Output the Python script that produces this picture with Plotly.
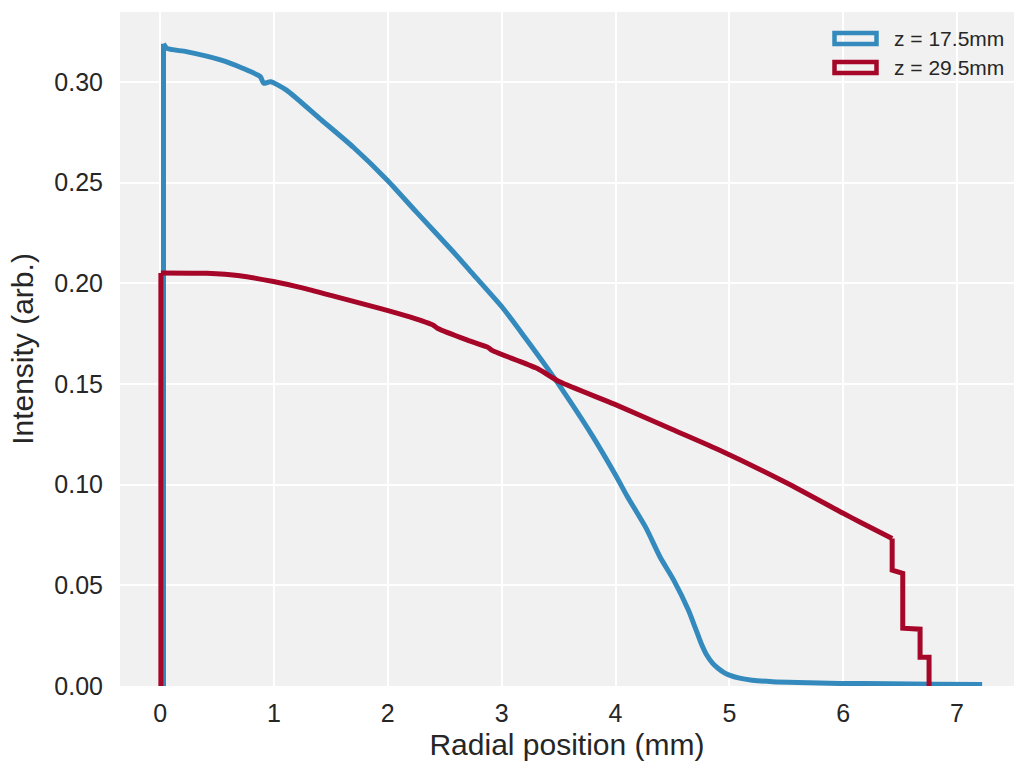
import plotly.graph_objects as go

# Radial intensity profiles (step histograms) at two axial positions
blue_label = "z = 17.5mm"
blue_x = [0.03, 0.03, 0.06, 0.23, 0.53, 0.72, 0.88, 0.91, 0.97, 1.11, 1.40, 1.70,
          2.00, 2.25, 2.56, 2.75, 3.00, 3.20, 3.40, 3.60, 3.80, 4.00, 4.10, 4.27,
          4.39, 4.51, 4.64, 4.70, 4.75, 4.80, 4.85, 4.90, 4.95, 5.00, 5.09, 5.20,
          5.38, 5.60, 5.97, 6.40, 6.80, 7.22]
blue_y = [0.0, 0.319, 0.3167, 0.3151, 0.311, 0.307, 0.3027, 0.2994, 0.3002, 0.296,
          0.282, 0.2675, 0.251, 0.2355, 0.2166, 0.2045, 0.1885, 0.1735, 0.158,
          0.1415, 0.124, 0.1048, 0.0945, 0.0783, 0.0642, 0.0527, 0.0377, 0.029,
          0.0215, 0.0155, 0.0115, 0.0088, 0.0068, 0.0054, 0.0039, 0.0029, 0.0021,
          0.0017, 0.0013, 0.0011, 0.0009, 0.0008]

red_label = "z = 29.5mm"
red_x = [0.007, 0.007, 0.41, 0.70, 0.995, 1.23, 1.50, 1.93, 2.20, 2.40, 2.44, 2.70,
         2.88, 2.92, 3.31, 3.51, 3.99, 4.50, 4.92, 5.50, 6.00, 6.15, 6.43, 6.43,
         6.523, 6.523, 6.675, 6.675, 6.754, 6.754]
red_y = [0.0, 0.2052, 0.205, 0.2038, 0.2009, 0.198, 0.194, 0.1876, 0.1832, 0.1792,
         0.1776, 0.1718, 0.1682, 0.1666, 0.1578, 0.1511, 0.140, 0.1274, 0.117,
         0.101, 0.0858, 0.0813, 0.0733, 0.0576, 0.0560, 0.0287, 0.0282, 0.01425,
         0.01425, 0.0]

x_ticks = [0, 1, 2, 3, 4, 5, 6, 7]
y_ticks = [0.00, 0.05, 0.10, 0.15, 0.20, 0.25, 0.30]

BLUE = "#348ABD"
RED = "#A60628"
TEXT = "#262626"
FONT = "Liberation Sans, Arial, Helvetica, sans-serif"
LW = 5

W, H = 1016, 769
M_L, M_R, M_T, M_B = 120, 2, 12, 83
PW, PH = W - M_L - M_R, H - M_T - M_B


def split_profile(xs, ys):
    """Split a profile into its vertical rising edge, smooth body and step tail."""
    # rising edge: first two points share the same x
    edge = (xs[:2], ys[:2])
    # tail begins at the first repeated x after the edge
    tail_start = len(xs)
    for i in range(2, len(xs) - 1):
        if xs[i] == xs[i + 1]:
            tail_start = i
            break
    body = (xs[1:tail_start + 1], ys[1:tail_start + 1])
    tail = (xs[tail_start:], ys[tail_start:])
    return edge, body, tail


fig = go.Figure()
for xs, ys, color, label in [(blue_x, blue_y, BLUE, blue_label),
                             (red_x, red_y, RED, red_label)]:
    edge, body, tail = split_profile(xs, ys)
    fig.add_trace(go.Scatter(x=edge[0], y=edge[1], mode="lines", name=label,
                             line=dict(color=color, width=LW), showlegend=False))
    fig.add_trace(go.Scatter(x=body[0], y=body[1], mode="lines", name=label,
                             line=dict(color=color, width=LW, shape="spline",
                                       smoothing=0.6),
                             showlegend=False))
    if len(tail[0]) > 1:
        fig.add_trace(go.Scatter(x=tail[0], y=tail[1], mode="lines", name=label,
                                 line=dict(color=color, width=LW),
                                 showlegend=False))


def px_to_paper(px, py):
    return (px - M_L) / PW, (H - M_B - py) / PH


# Legend drawn as outlined boxes (histogram-step style) with labels
shapes, annotations = [], []
for i, (label, color) in enumerate([(blue_label, BLUE), (red_label, RED)]):
    cy = 38.5 + 29 * i
    x0, y0 = px_to_paper(834.5, cy + 5.5)
    x1, y1 = px_to_paper(876.5, cy - 5.5)
    shapes.append(dict(type="rect", xref="paper", yref="paper", x0=x0, x1=x1,
                       y0=y0, y1=y1, line=dict(color=color, width=4.5),
                       fillcolor="rgba(0,0,0,0)"))
    tx, ty = px_to_paper(892, cy)
    annotations.append(dict(x=tx, y=ty, xref="paper", yref="paper", text=label,
                            showarrow=False, xanchor="left", yanchor="middle",
                            font=dict(size=21, color=TEXT, family=FONT)))

fig.update_layout(
    width=W, height=H,
    margin=dict(l=M_L, r=M_R, t=M_T, b=M_B, pad=0),
    paper_bgcolor="white",
    plot_bgcolor="#F1F1F1",
    font=dict(family=FONT, color=TEXT),
    shapes=shapes,
    annotations=annotations,
    xaxis=dict(
        range=[-0.352, 7.50], tickvals=x_ticks, ticktext=[str(v) for v in x_ticks],
        showgrid=True, gridcolor="white", gridwidth=2, zeroline=False,
        showline=False, ticks="", ticklabelstandoff=10,
        tickfont=dict(size=25, color=TEXT),
        title=dict(text="Radial position (mm)", font=dict(size=30, color=TEXT),
                   standoff=7),
    ),
    yaxis=dict(
        range=[0, 0.3348], tickvals=y_ticks, ticktext=[f"{v:.2f}" for v in y_ticks],
        showgrid=True, gridcolor="white", gridwidth=2, zeroline=False,
        showline=False, ticks="", ticklabelstandoff=16,
        tickfont=dict(size=25, color=TEXT),
        title=dict(text="Intensity (arb.)", font=dict(size=30, color=TEXT),
                   standoff=11),
    ),
)

fig.write_html("out.html")
